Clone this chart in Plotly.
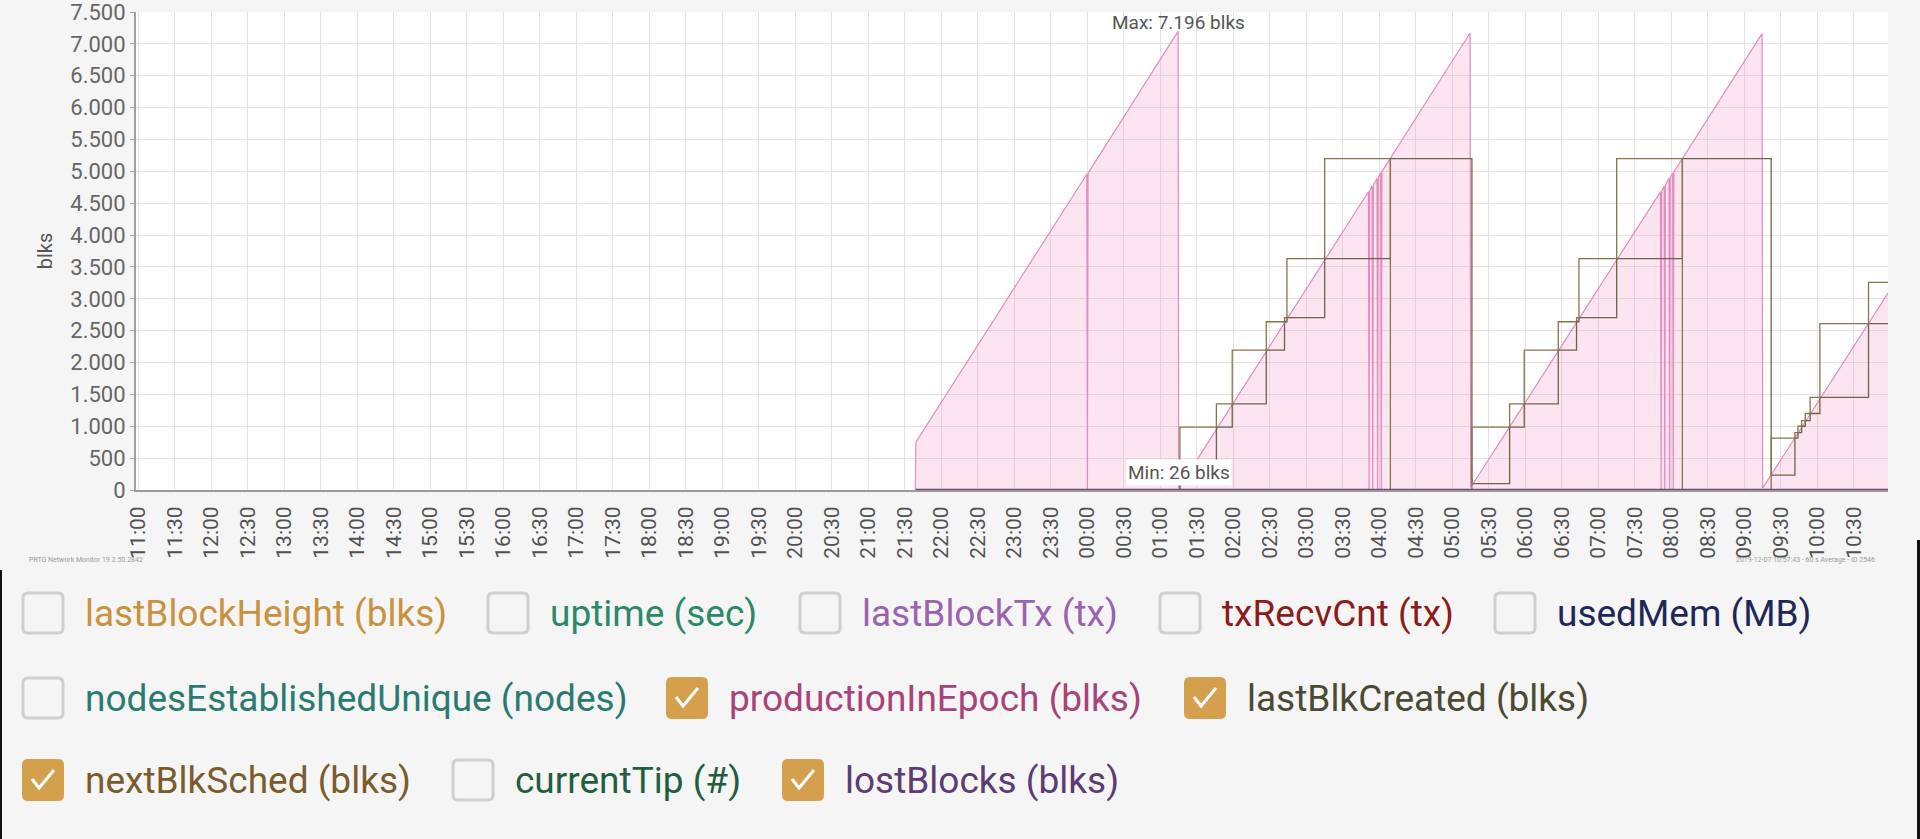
import plotly.graph_objects as go

# ---------------- data ----------------
# productionInEpoch (blks)
prod_time = [
    "2019-12-06 21:38:30", "2019-12-06 21:39:00", "2019-12-06 23:59:30", "2019-12-07 00:00:00",
    "2019-12-07 00:00:30", "2019-12-07 01:14:30", "2019-12-07 01:15:00",
    "2019-12-07 03:51:00", "2019-12-07 03:51:30", "2019-12-07 03:52:00",
    "2019-12-07 03:54:00", "2019-12-07 03:54:30", "2019-12-07 03:55:00",
    "2019-12-07 03:58:00", "2019-12-07 03:58:30", "2019-12-07 03:59:00",
    "2019-12-07 04:01:00", "2019-12-07 04:01:30", "2019-12-07 04:02:00",
    "2019-12-07 05:14:30", "2019-12-07 05:15:00",
    "2019-12-07 07:51:00", "2019-12-07 07:51:30", "2019-12-07 07:52:00",
    "2019-12-07 07:54:00", "2019-12-07 07:54:30", "2019-12-07 07:55:00",
    "2019-12-07 07:58:00", "2019-12-07 07:58:30", "2019-12-07 07:59:00",
    "2019-12-07 08:01:00", "2019-12-07 08:01:30", "2019-12-07 08:02:00",
    "2019-12-07 09:14:30", "2019-12-07 09:15:00", "2019-12-07 10:58:00",
]
prod_vals = [
    0, 750, 4955, 0,
    4970, 7196, 26,
    4679, 0, 4694,
    4769, 0, 4784,
    4888, 0, 4903,
    4978, 0, 4993,
    7170, 40,
    4678, 0, 4693,
    4767, 0, 4782,
    4886, 0, 4901,
    4975, 0, 4990,
    7160, 30, 3090,
]

# lastBlkCreated (blks)
last_time = [
    "2019-12-06 21:39", "2019-12-07 01:16", "2019-12-07 01:46", "2019-12-07 01:59",
    "2019-12-07 02:27", "2019-12-07 02:42", "2019-12-07 02:44", "2019-12-07 03:15",
    "2019-12-07 04:09", "2019-12-07 05:16", "2019-12-07 05:47", "2019-12-07 05:59",
    "2019-12-07 06:27", "2019-12-07 06:42", "2019-12-07 06:44", "2019-12-07 07:15",
    "2019-12-07 08:09", "2019-12-07 09:22", "2019-12-07 09:41:30", "2019-12-07 09:44",
    "2019-12-07 09:47", "2019-12-07 09:50", "2019-12-07 09:54", "2019-12-07 10:02",
    "2019-12-07 10:42", "2019-12-07 10:58",
]
last_vals = [
    0, 90, 985, 1350,
    2195, 2640, 2705, 3630,
    5200, 100, 985, 1350,
    2195, 2640, 2705, 3630,
    5200, 233, 814, 900,
    1000, 1090, 1200, 1453,
    2610, 2610,
]

# nextBlkSched (blks)
next_time = [
    "2019-12-06 21:39", "2019-12-07 01:16", "2019-12-07 01:46", "2019-12-07 01:59",
    "2019-12-07 02:27", "2019-12-07 02:42", "2019-12-07 02:44", "2019-12-07 03:15",
    "2019-12-07 04:09", "2019-12-07 05:16", "2019-12-07 05:47", "2019-12-07 05:59",
    "2019-12-07 06:27", "2019-12-07 06:42", "2019-12-07 06:44", "2019-12-07 07:15",
    "2019-12-07 08:09", "2019-12-07 09:22", "2019-12-07 09:41:30", "2019-12-07 09:44",
    "2019-12-07 09:47", "2019-12-07 09:50", "2019-12-07 09:54", "2019-12-07 10:02",
    "2019-12-07 10:42", "2019-12-07 10:58",
]
next_vals = [
    0, 985, 1350, 2195,
    2640, 2705, 3630, 5200,
    0, 985, 1350, 2195,
    2640, 2705, 3630, 5200,
    0, 814, 900, 1000,
    1090, 1200, 1453, 2610,
    3257, 3257,
]

# lostBlocks (blks)
lost_time = ["2019-12-06 21:39", "2019-12-07 10:58"]
lost_vals = [0, 0]

# legend channels: (label, colour, checked)
legend_rows = [
    [("lastBlockHeight (blks)", "#c8923e", False), ("uptime (sec)", "#2b8a66", False),
     ("lastBlockTx (tx)", "#9b62b0", False), ("txRecvCnt (tx)", "#8c1c1c", False),
     ("usedMem (MB)", "#1e2858", False)],
    [("nodesEstablishedUnique (nodes)", "#2a7a72", False),
     ("productionInEpoch (blks)", "#a8437a", True),
     ("lastBlkCreated (blks)", "#4b4a32", True)],
    [("nextBlkSched (blks)", "#7a5c2c", True), ("currentTip (#)", "#1f5e40", False),
     ("lostBlocks (blks)", "#5c3c72", True)],
]

x_range = ["2019-12-06 10:58", "2019-12-07 10:58"]
y_range = [0, 7500]

# ---------------- layout geometry (pixels) ----------------
W, H = 1920, 839
PL, PR, PT, PB = 136, 1888, 12, 490


def px(x):
    return (x - PL) / (PR - PL)


def py(y):
    return (PB - y) / (PB - PT)


FONT = "Roboto, Noto Sans, sans-serif"

fig = go.Figure()

fig.add_trace(go.Scatter(
    x=prod_time, y=prod_vals, mode="lines", name="productionInEpoch (blks)",
    line=dict(color="#e38abf", width=1.2), fill="tozeroy",
    fillcolor="rgba(244,155,202,0.26)", hoverinfo="skip"))
fig.add_trace(go.Scatter(
    x=last_time, y=last_vals, mode="lines", name="lastBlkCreated (blks)",
    line=dict(color="#6b6548", width=1.3, shape="hv"), hoverinfo="skip"))
fig.add_trace(go.Scatter(
    x=next_time, y=next_vals, mode="lines", name="nextBlkSched (blks)",
    line=dict(color="#86744c", width=1.3, shape="hv"), hoverinfo="skip"))
fig.add_trace(go.Scatter(
    x=lost_time, y=lost_vals, mode="lines", name="lostBlocks (blks)",
    line=dict(color="#6a4a78", width=2.5), hoverinfo="skip"))


def de(v):
    return f"{v:,}".replace(",", ".")


imax = prod_vals.index(max(prod_vals))
pos = [v for v in prod_vals if v > 0]
imin = prod_vals.index(min(pos))

fig.add_annotation(x=prod_time[imax], y=prod_vals[imax], text=f"Max: {de(prod_vals[imax])} blks",
                   showarrow=False, yanchor="bottom", yshift=-5,
                   font=dict(family=FONT, size=19, color="#555555"))
fig.add_annotation(x=prod_time[imin], y=prod_vals[imin], text=f"Min: {de(prod_vals[imin])} blks",
                   showarrow=False, yanchor="middle", yshift=16, bgcolor="white",
                   font=dict(family=FONT, size=19, color="#555555"))

# ---------------- legend with checkboxes ----------------
row_y = [613, 698, 780]
cb_x = [[43, 508, 820, 1180, 1515], [43, 687, 1205], [43, 473, 803]]
H2, R = 20, 5
box_path = (f"M {-H2+R},{-H2} L {H2-R},{-H2} Q {H2},{-H2} {H2},{-H2+R} L {H2},{H2-R} "
            f"Q {H2},{H2} {H2-R},{H2} L {-H2+R},{H2} Q {-H2},{H2} {-H2},{H2-R} "
            f"L {-H2},{-H2+R} Q {-H2},{-H2} {-H2+R},{-H2} Z")
check_path = "M -11,1 L -4,-8 L 11,10"

for r, row in enumerate(legend_rows):
    for c, (label, color, checked) in enumerate(row):
        cx, cy = cb_x[r][c], row_y[r]
        if checked:
            fig.add_shape(type="path", xref="paper", yref="paper", xsizemode="pixel",
                          ysizemode="pixel", xanchor=px(cx), yanchor=py(cy), path=box_path,
                          fillcolor="#d4a04e", line=dict(color="#d4a04e", width=2))
            fig.add_shape(type="path", xref="paper", yref="paper", xsizemode="pixel",
                          ysizemode="pixel", xanchor=px(cx), yanchor=py(cy), path=check_path,
                          line=dict(color="white", width=3))
        else:
            fig.add_shape(type="path", xref="paper", yref="paper", xsizemode="pixel",
                          ysizemode="pixel", xanchor=px(cx), yanchor=py(cy), path=box_path,
                          fillcolor="rgba(0,0,0,0)", line=dict(color="#cfcfcf", width=3))
        fig.add_annotation(xref="paper", yref="paper", x=px(cx + 40), y=py(cy), text=label,
                           showarrow=False, xanchor="left", yanchor="middle",
                           font=dict(family=FONT, size=37, color=color))

# footer texts
fig.add_annotation(xref="paper", yref="paper", x=px(27), y=py(560),
                   text="PRTG Network Monitor 19.2.50.2842", showarrow=False,
                   xanchor="left", yanchor="middle", font=dict(family=FONT, size=7, color="#9a9a9a"))
fig.add_annotation(xref="paper", yref="paper", x=px(1877), y=py(560),
                   text="2019-12-07 10:57:43 - 60 s Average - ID 2546", showarrow=False,
                   xanchor="right", yanchor="middle", font=dict(family=FONT, size=7, color="#9a9a9a"))

# screen frame edges
fig.add_shape(type="rect", xref="paper", yref="paper", x0=px(0), x1=px(2), y0=py(570), y1=py(839),
              fillcolor="#111111", line=dict(width=0))
fig.add_shape(type="rect", xref="paper", yref="paper", x0=px(1917), x1=px(1920), y0=py(540), y1=py(839),
              fillcolor="#111111", line=dict(width=0))

fig.update_layout(
    width=W, height=H, autosize=False,
    margin=dict(l=PL, r=W - PR, t=PT, b=H - PB, pad=0, autoexpand=False),
    paper_bgcolor="#f5f5f5", plot_bgcolor="white",
    showlegend=False, separators=",.",
    font=dict(family=FONT, color="#555555"),
    xaxis=dict(type="date", range=x_range, dtick=1800000, tickformat="%H:%M", tickangle=-90,
               automargin=False,
               showgrid=True, gridcolor="#e3e3e3", gridwidth=1, showline=True,
               linecolor="#9a9a9a", linewidth=2, ticks="", ticklabelstandoff=6,
               tickfont=dict(family=FONT, size=21, color="#505050"), zeroline=False),
    yaxis=dict(range=y_range, dtick=500, tickformat=",d", showgrid=True, gridcolor="#e3e3e3",
               automargin=False,
               gridwidth=1, showline=True, linecolor="#a0a0a0", linewidth=2, ticks="outside",
               ticklen=4, tickcolor="#a0a0a0", zeroline=False, ticklabeloverflow="allow",
               tickfont=dict(family=FONT, size=22, color="#666666"),
               title=dict(text="blks", font=dict(family=FONT, size=20, color="#555555"), standoff=12)),
)

fig.write_html("out.html")
